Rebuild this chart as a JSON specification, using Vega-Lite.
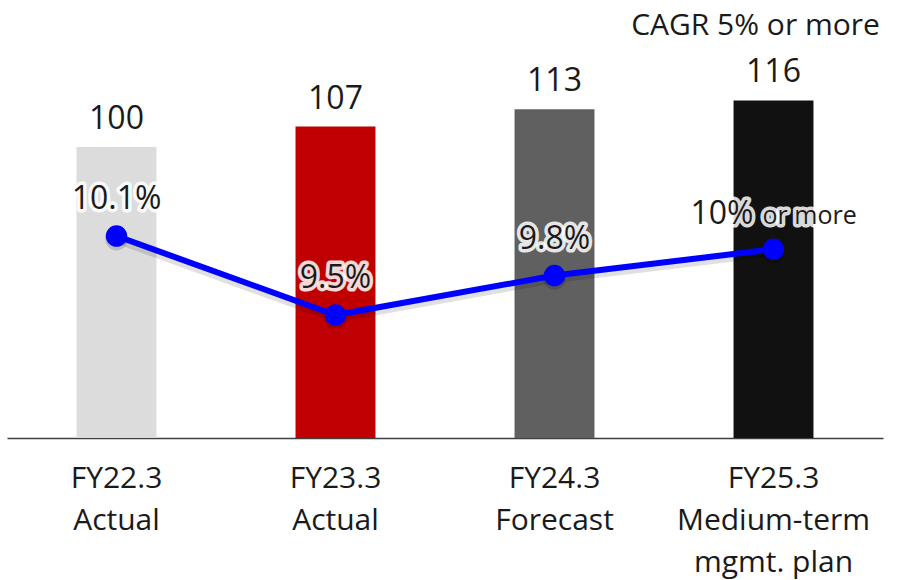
{
  "$schema": "https://vega.github.io/schema/vega-lite/v6.json",
  "width": 876,
  "height": 438,
  "autosize": {"type": "none"},
  "padding": {"left": 7, "right": 14, "top": 0, "bottom": 142},
  "background": "white",
  "config": {
    "view": {"stroke": null},
    "font": "Open Sans",
    "text": {"font": "Open Sans", "color": "#1a1a1a"}
  },
  "data": {
    "values": [
      {"period": "FY22.3|Actual", "sales": 100, "margin": 10.1, "marginLabel": "10.1%"},
      {"period": "FY23.3|Actual", "sales": 107, "margin": 9.5, "marginLabel": "9.5%"},
      {"period": "FY24.3|Forecast", "sales": 113, "margin": 9.8, "marginLabel": "9.8%"},
      {"period": "FY25.3|Medium-term|mgmt. plan", "sales": 116, "margin": 10.0, "marginLabel": "10%", "marginNote": "or more", "note": "CAGR 5% or more"}
    ]
  },
  "encoding": {
    "x": {
      "field": "period",
      "type": "nominal",
      "sort": null,
      "scale": {"paddingInner": 0.635, "paddingOuter": 0.3175},
      "axis": {
        "title": null,
        "labelExpr": "split(datum.value, '|')",
        "labelFont": "Open Sans",
        "labelFontSize": 30,
        "labelColor": "#1a1a1a",
        "labelLineHeight": 42,
        "labelPadding": 25,
        "labelAngle": 0,
        "labelLimit": 0,
        "labelOverlap": false,
        "labelBound": false,
        "ticks": false,
        "grid": false,
        "domainColor": "#404040",
        "domainWidth": 1.5
      }
    }
  },
  "layer": [
    {
      "encoding": {
        "y": {"field": "sales", "type": "quantitative", "scale": {"domain": [0, 150.5], "nice": false}, "axis": null}
      },
      "layer": [
        {
          "mark": {"type": "bar"},
          "encoding": {
            "color": {
              "field": "period",
              "type": "nominal",
              "scale": {
                "domain": ["FY22.3|Actual", "FY23.3|Actual", "FY24.3|Forecast", "FY25.3|Medium-term|mgmt. plan"],
                "range": ["#DCDCDC", "#C00000", "#606060", "#111111"]
              },
              "legend": null
            }
          }
        },
        {
          "mark": {"type": "text", "fontSize": 32, "baseline": "alphabetic", "dy": -18},
          "encoding": {"text": {"field": "sales", "type": "quantitative"}}
        },
        {
          "transform": [{"filter": "isValid(datum.note)"}],
          "mark": {"type": "text", "fontSize": 30, "baseline": "alphabetic", "dy": -65, "dx": -18},
          "encoding": {"text": {"field": "note", "type": "nominal"}}
        }
      ]
    },
    {
      "encoding": {
        "y": {"field": "margin", "type": "quantitative", "scale": {"domain": [8.566, 11.893], "nice": false, "zero": false}, "axis": null}
      },
      "layer": [
        {
          "mark": {"type": "line", "color": "#000000", "strokeWidth": 9, "opacity": 0.12},
          "encoding": {"yOffset": {"value": 3}}
        },
        {
          "mark": {"type": "line", "color": "#0000FF", "strokeWidth": 6}
        },
        {
          "mark": {"type": "point", "filled": true, "size": 520, "color": "#000000", "opacity": 0.15},
          "encoding": {"yOffset": {"value": 3}}
        },
        {
          "mark": {"type": "point", "filled": true, "size": 460, "color": "#0000FF", "opacity": 1}
        },
        {
          "transform": [{"filter": "!isValid(datum.marginNote)"}],
          "layer": [
            {
              "mark": {"type": "text", "fontSize": 32, "baseline": "alphabetic", "dy": -27, "color": "white", "stroke": "white", "strokeWidth": 7, "strokeJoin": "round", "strokeOpacity": 0.85},
              "encoding": {"text": {"field": "marginLabel", "type": "nominal"}}
            },
            {
              "mark": {"type": "text", "fontSize": 32, "baseline": "alphabetic", "dy": -27},
              "encoding": {"text": {"field": "marginLabel", "type": "nominal"}}
            }
          ]
        },
        {
          "transform": [{"filter": "isValid(datum.marginNote)"}],
          "layer": [
            {
              "mark": {"type": "text", "fontSize": 32, "align": "right", "baseline": "alphabetic", "dx": -20, "dy": -25, "color": "white", "stroke": "white", "strokeWidth": 7, "strokeJoin": "round", "strokeOpacity": 0.85},
              "encoding": {"text": {"field": "marginLabel", "type": "nominal"}}
            },
            {
              "mark": {"type": "text", "fontSize": 32, "align": "right", "baseline": "alphabetic", "dx": -20, "dy": -25},
              "encoding": {"text": {"field": "marginLabel", "type": "nominal"}}
            },
            {
              "mark": {"type": "text", "fontSize": 25, "align": "left", "baseline": "alphabetic", "dx": -11, "dy": -25, "color": "white", "stroke": "white", "strokeWidth": 7, "strokeJoin": "round", "strokeOpacity": 0.85},
              "encoding": {"text": {"field": "marginNote", "type": "nominal"}}
            },
            {
              "mark": {"type": "text", "fontSize": 25, "align": "left", "baseline": "alphabetic", "dx": -11, "dy": -25},
              "encoding": {"text": {"field": "marginNote", "type": "nominal"}}
            }
          ]
        }
      ]
    }
  ],
  "resolve": {"scale": {"y": "independent"}}
}
